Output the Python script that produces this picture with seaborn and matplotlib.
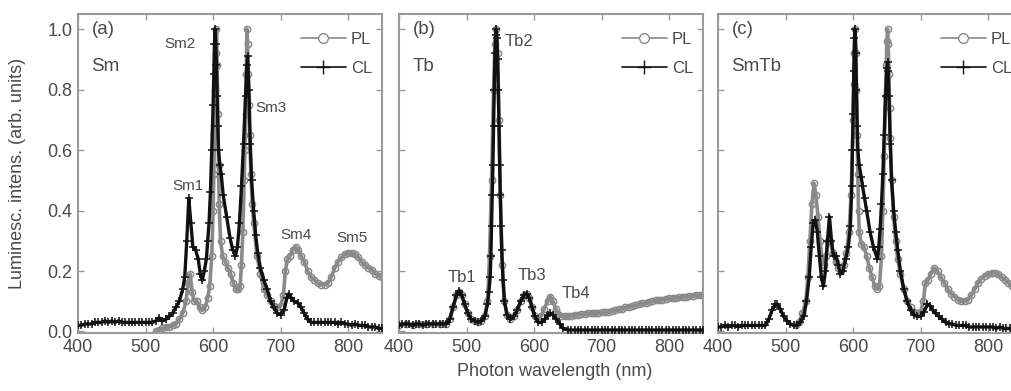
"""
Luminescence spectra (PL vs CL) for Sm, Tb and SmTb samples -- three panels.
"""

import matplotlib
matplotlib.use("Agg")
import matplotlib.pyplot as plt
import seaborn as sns
from matplotlib.lines import Line2D

# -- Data ---------------------------------------------------------------------
# (a) Sm
SM_CL_WL = [400, 405, 410, 415, 420, 425, 430, 435, 440, 445, 450, 455, 460, 465, 470,
            475, 480, 485, 490, 495, 500, 505, 510, 515, 520, 525, 530, 535, 540, 545,
            550, 555, 558, 561, 564, 567, 570, 574, 578, 581, 584, 587, 590, 592, 594,
            596, 598, 600, 601, 602, 603, 604, 605, 606, 607, 608, 610, 612, 615, 620,
            625, 629, 633, 636, 639, 642, 645, 648, 650, 651, 653, 655, 657, 660, 663,
            666, 670, 675, 680, 685, 690, 695, 700, 705, 709, 712, 716, 720, 725, 730,
            735, 740, 745, 750, 755, 760, 765, 770, 775, 780, 785, 790, 795, 800, 805,
            810, 815, 820, 825, 830, 835, 840, 845, 850]
SM_CL = [0.02, 0.02, 0.025, 0.025, 0.025, 0.03, 0.03, 0.03, 0.035, 0.03, 0.035, 0.03, 0.035, 0.03, 0.03,
         0.03, 0.03, 0.03, 0.03, 0.03, 0.03, 0.03, 0.03, 0.035, 0.045, 0.035, 0.04, 0.05, 0.06, 0.08,
         0.10, 0.14, 0.18, 0.30, 0.44, 0.36, 0.28, 0.27, 0.24, 0.19, 0.17, 0.20, 0.24, 0.30, 0.36,
         0.46, 0.60, 0.75, 0.85, 0.95, 1.00, 0.95, 0.88, 0.78, 0.68, 0.60, 0.55, 0.52, 0.45, 0.38,
         0.31, 0.27, 0.25, 0.28, 0.36, 0.48, 0.62, 0.78, 0.88, 0.91, 0.80, 0.62, 0.50, 0.40, 0.32,
         0.26, 0.21, 0.17, 0.14, 0.10, 0.08, 0.06, 0.055, 0.07, 0.11, 0.125, 0.11, 0.10, 0.095, 0.08,
         0.06, 0.04, 0.03, 0.03, 0.03, 0.03, 0.03, 0.03, 0.03, 0.03, 0.025, 0.03, 0.025, 0.025, 0.02,
         0.025, 0.02, 0.02, 0.02, 0.015, 0.015, 0.015, 0.01, 0.01]

SM_PL_WL = [515, 520, 525, 530, 535, 540, 545, 550, 555, 560, 563, 566, 569, 572, 576,
            580, 584, 588, 592, 595, 598, 600, 601, 602, 603, 604, 605, 606, 607, 608,
            609, 611, 614, 618, 622, 626, 630, 634, 637, 640, 642, 644, 646, 647, 648,
            649, 650, 651, 652, 653, 654, 656, 658, 660, 665, 670, 675, 680, 685, 690,
            695, 700, 704, 707, 710, 714, 718, 722, 726, 730, 735, 740, 745, 750, 755,
            760, 765, 770, 775, 780, 785, 790, 795, 800, 805, 810, 815, 820, 825, 830,
            835, 840, 845, 850]
SM_PL = [0.0, 0.005, 0.01, 0.015, 0.015, 0.02, 0.025, 0.04, 0.06, 0.10, 0.16, 0.19, 0.13, 0.10, 0.10,
         0.08, 0.07, 0.08, 0.11, 0.15, 0.25, 0.40, 0.52, 0.65, 0.80, 0.92, 1.00, 0.88, 0.72, 0.55,
         0.42, 0.30, 0.25, 0.23, 0.21, 0.19, 0.16, 0.14, 0.14, 0.15, 0.22, 0.33, 0.50, 0.60, 0.72,
         0.85, 1.00, 0.95, 0.85, 0.75, 0.65, 0.52, 0.42, 0.36, 0.25, 0.19, 0.14, 0.12, 0.10, 0.085,
         0.08, 0.085, 0.12, 0.20, 0.24, 0.25, 0.27, 0.28, 0.27, 0.25, 0.23, 0.20, 0.18, 0.17, 0.16,
         0.155, 0.155, 0.16, 0.18, 0.21, 0.23, 0.245, 0.255, 0.26, 0.26, 0.255, 0.245, 0.23, 0.22, 0.21,
         0.205, 0.19, 0.185, 0.18]

# (b) Tb
TB_CL_WL = [400, 405, 410, 415, 420, 425, 430, 435, 440, 445, 450, 455, 460, 465, 470,
            475, 480, 485, 489, 493, 497, 502, 507, 512, 517, 522, 527, 531, 533, 535,
            536, 537, 538, 539, 540, 541, 542, 543, 544, 545, 546, 547, 548, 549, 550,
            551, 552, 554, 556, 560, 565, 570, 575, 580, 585, 589, 593, 597, 601, 606,
            611, 616, 620, 624, 628, 633, 638, 643, 650, 655, 660, 665, 670, 675, 680,
            685, 690, 695, 700, 705, 710, 715, 720, 725, 730, 735, 740, 745, 750, 755,
            760, 765, 770, 775, 780, 785, 790, 795, 800, 805, 810, 815, 820, 825, 830,
            835, 840, 845, 850]
TB_CL = [0.02, 0.025, 0.025, 0.025, 0.02, 0.025, 0.025, 0.02, 0.025, 0.025, 0.025, 0.025, 0.025, 0.025, 0.025,
         0.04, 0.08, 0.12, 0.135, 0.12, 0.09, 0.06, 0.04, 0.035, 0.03, 0.035, 0.05, 0.09, 0.13, 0.18,
         0.25, 0.35, 0.45, 0.55, 0.68, 0.80, 0.92, 0.98, 1.00, 0.97, 0.90, 0.80, 0.68, 0.55, 0.45,
         0.35, 0.27, 0.17, 0.10, 0.055, 0.04, 0.05, 0.07, 0.10, 0.12, 0.125, 0.11, 0.08, 0.05, 0.03,
         0.03, 0.04, 0.055, 0.06, 0.055, 0.04, 0.025, 0.01, 0.005, 0.005, 0.005, 0.005, 0.005, 0.005, 0.005,
         0.005, 0.005, 0.005, 0.005, 0.005, 0.005, 0.005, 0.005, 0.005, 0.005, 0.005, 0.005, 0.005, 0.005, 0.005,
         0.005, 0.005, 0.005, 0.005, 0.005, 0.005, 0.005, 0.005, 0.005, 0.005, 0.005, 0.005, 0.005, 0.005, 0.005,
         0.005, 0.005, 0.005, 0.005]

TB_PL_WL = [400, 410, 420, 430, 440, 450, 460, 470, 475, 480, 485, 489, 493, 497, 502,
            507, 512, 517, 522, 527, 531, 534, 537, 540, 542, 544, 546, 548, 550, 553,
            556, 560, 565, 570, 575, 580, 585, 589, 593, 597, 601, 606, 610, 615, 620,
            624, 628, 632, 636, 640, 645, 650, 655, 660, 665, 670, 675, 680, 685, 690,
            695, 700, 705, 710, 715, 720, 725, 730, 735, 740, 745, 750, 755, 760, 765,
            770, 775, 780, 785, 790, 795, 800, 805, 810, 815, 820, 825, 830, 835, 840,
            845, 850]
TB_PL = [0.02, 0.025, 0.02, 0.025, 0.025, 0.025, 0.025, 0.025, 0.04, 0.08, 0.12, 0.13, 0.12, 0.09, 0.06,
         0.04, 0.035, 0.03, 0.035, 0.05, 0.10, 0.25, 0.50, 0.80, 0.95, 1.00, 0.92, 0.70, 0.45, 0.22,
         0.10, 0.055, 0.04, 0.05, 0.07, 0.10, 0.12, 0.125, 0.11, 0.08, 0.05, 0.04, 0.05, 0.075, 0.10,
         0.115, 0.10, 0.075, 0.058, 0.05, 0.05, 0.05, 0.052, 0.055, 0.055, 0.057, 0.058, 0.06, 0.06, 0.06,
         0.062, 0.063, 0.065, 0.065, 0.068, 0.07, 0.073, 0.075, 0.08, 0.082, 0.085, 0.087, 0.09, 0.093, 0.095,
         0.097, 0.1, 0.103, 0.105, 0.105, 0.108, 0.11, 0.11, 0.112, 0.113, 0.115, 0.115, 0.117, 0.118, 0.12,
         0.12, 0.12]

# (c) SmTb
SMTB_CL_WL = [400, 405, 410, 415, 420, 425, 430, 435, 440, 445, 450, 455, 460, 465, 470,
              475, 480, 485, 488, 492, 497, 502, 507, 512, 517, 522, 527, 531, 535, 538,
              541, 544, 547, 550, 553, 556, 559, 562, 565, 568, 571, 575, 578, 581, 585,
              589, 593, 596, 598, 599, 600, 601, 602, 603, 604, 605, 606, 607, 609, 612,
              614, 617, 620, 625, 630, 636, 638, 640, 642, 644, 646, 648, 650, 651, 652,
              653, 655, 657, 660, 663, 666, 670, 675, 680, 685, 690, 695, 700, 705, 710,
              714, 718, 722, 727, 732, 737, 742, 747, 752, 757, 762, 767, 772, 777, 782,
              787, 792, 797, 802, 807, 812, 817, 822, 827, 832, 837, 842, 847, 850]
SMTB_CL = [0.015, 0.015, 0.02, 0.015, 0.02, 0.02, 0.015, 0.02, 0.02, 0.02, 0.02, 0.02, 0.02, 0.02, 0.02,
           0.04, 0.07, 0.09, 0.09, 0.075, 0.05, 0.035, 0.025, 0.02, 0.02, 0.03, 0.05, 0.10, 0.18, 0.28,
           0.36, 0.37, 0.33, 0.25, 0.18, 0.15, 0.20, 0.30, 0.38, 0.30, 0.25, 0.25, 0.22, 0.19, 0.20,
           0.24, 0.28, 0.35, 0.48, 0.60, 0.72, 0.86, 0.97, 1.00, 0.92, 0.80, 0.68, 0.60, 0.55, 0.51,
           0.48, 0.44, 0.40, 0.33, 0.28, 0.24, 0.28, 0.34, 0.42, 0.52, 0.65, 0.78, 0.87, 0.89, 0.86,
           0.78, 0.62, 0.50, 0.40, 0.33, 0.27, 0.20, 0.14, 0.10, 0.07, 0.055, 0.05, 0.05, 0.065, 0.09,
           0.085, 0.07, 0.06, 0.05, 0.04, 0.03, 0.025, 0.025, 0.02, 0.02, 0.02, 0.02, 0.015, 0.015, 0.015,
           0.015, 0.015, 0.015, 0.015, 0.015, 0.01, 0.015, 0.01, 0.01, 0.01, 0.01, 0.01, 0.01, 0.01]

SMTB_PL_WL = [515, 520, 525, 530, 533, 536, 539, 542, 545, 548, 551, 554, 557, 560, 563,
              566, 570, 574, 578, 582, 586, 590, 594, 597, 600, 601, 602, 603, 604, 605,
              606, 607, 608, 609, 612, 616, 620, 624, 628, 632, 636, 639, 642, 644, 646,
              648, 649, 650, 651, 652, 653, 654, 655, 657, 660, 663, 666, 670, 675, 680,
              685, 690, 695, 700, 704, 707, 711, 715, 720, 725, 730, 735, 740, 745, 750,
              755, 760, 765, 770, 775, 780, 785, 790, 795, 800, 805, 810, 815, 820, 825,
              830, 835, 840, 845, 850]
SMTB_PL = [0.02, 0.03, 0.06, 0.10, 0.18, 0.30, 0.42, 0.49, 0.45, 0.38, 0.30, 0.24, 0.22, 0.25, 0.30,
           0.30, 0.26, 0.23, 0.21, 0.20, 0.22, 0.26, 0.33, 0.45, 0.70, 0.82, 0.92, 1.00, 0.92, 0.80,
           0.65, 0.52, 0.40, 0.33, 0.29, 0.28, 0.25, 0.21, 0.18, 0.15, 0.14, 0.15, 0.25, 0.40, 0.58,
           0.78, 0.88, 0.96, 1.00, 0.95, 0.85, 0.74, 0.64, 0.50, 0.38, 0.30, 0.24, 0.19, 0.14, 0.10,
           0.08, 0.065, 0.06, 0.065, 0.10, 0.16, 0.17, 0.19, 0.21, 0.20, 0.18, 0.16, 0.14, 0.125, 0.115,
           0.105, 0.10, 0.10, 0.105, 0.12, 0.14, 0.16, 0.175, 0.185, 0.19, 0.195, 0.195, 0.19, 0.18, 0.17,
           0.16, 0.15, 0.135, 0.125, 0.12]

PANELS = [
    ("(a)", "Sm",   SM_PL_WL,   SM_PL,   SM_CL_WL,   SM_CL),
    ("(b)", "Tb",   TB_PL_WL,   TB_PL,   TB_CL_WL,   TB_CL),
    ("(c)", "SmTb", SMTB_PL_WL, SMTB_PL, SMTB_CL_WL, SMTB_CL),
]

PEAK_LABELS = {
    0: [("Sm1", 563, 0.48, "center"), ("Sm2", 551, 0.95, "center"), ("Sm3", 663, 0.74, "left"),
        ("Sm4", 723, 0.32, "center"), ("Sm5", 806, 0.31, "center")],
    1: [("Tb1", 493, 0.18, "center"), ("Tb2", 556, 0.96, "left"), ("Tb3", 597, 0.185, "center"),
        ("Tb4", 662, 0.125, "center")],
    2: [],
}

# -- Style ---------------------------------------------------------------------
C_PL   = "#8a8a8a"
C_CL   = "#111111"
C_TEXT = "#4a4a4a"
C_AXIS = "#9a9a9a"

sns.set_style("ticks")
plt.rcParams["font.family"] = ["Liberation Sans", "DejaVu Sans"]
plt.rcParams.update({
    "xtick.direction": "in", "ytick.direction": "in",
    "xtick.color": C_AXIS, "ytick.color": C_AXIS,
    "xtick.labelcolor": C_TEXT, "ytick.labelcolor": C_TEXT,
    "axes.edgecolor": C_AXIS,
})

fig = plt.figure(figsize=(10.12, 3.91), dpi=100)
lefts = [78, 399, 718]
axes = [fig.add_axes([l / 1012, 1 - 333 / 391, 304 / 1012, 319 / 391]) for l in lefts]

for i, (ax, (tag, name, pl_x, pl_y, cl_x, cl_y)) in enumerate(zip(axes, PANELS)):
    # PL: grey open circles, CL: black plus signs (drawn on top)
    sns.lineplot(x=pl_x, y=pl_y, ax=ax, color=C_PL, linewidth=2.6, marker="o",
                 markersize=4.5, markerfacecolor="none", markeredgecolor=C_PL,
                 markeredgewidth=1.1, estimator=None, sort=False, zorder=2)
    sns.lineplot(x=cl_x, y=cl_y, ax=ax, color=C_CL, linewidth=2.4, marker="+",
                 markersize=6, markeredgecolor=C_CL, markeredgewidth=1.1,
                 estimator=None, sort=False, zorder=3)

    ax.set_xlim(400, 850)
    ax.set_ylim(-0.005, 1.05)
    ax.set_xticks([400, 500, 600, 700, 800])
    ax.set_yticks([0.0, 0.2, 0.4, 0.6, 0.8, 1.0])
    ax.tick_params(top=True, right=True, length=4, width=1.0, labelsize=13, pad=4)
    for sp in ax.spines.values():
        sp.set_linewidth(1.5)
        sp.set_visible(True)
    if i == 0:
        ax.set_yticklabels([f"{v:.1f}" for v in [0.0, 0.2, 0.4, 0.6, 0.8, 1.0]])
    else:
        ax.set_yticklabels([])

    ax.text(420, 1.0, tag, fontsize=13.5, color=C_TEXT, ha="left", va="center")
    ax.text(420, 0.875, name, fontsize=13.5, color=C_TEXT, ha="left", va="center")
    for lab, x, y, ha in PEAK_LABELS[i]:
        ax.text(x, y, lab, fontsize=12 if i == 1 else 11, color=C_TEXT, ha=ha, va="center")

    handles = [
        Line2D([], [], color=C_PL, linewidth=1.2, marker="o", markersize=7,
               markerfacecolor="white", markeredgecolor=C_PL, label="PL"),
        Line2D([], [], color=C_CL, linewidth=1.2, marker="+", markersize=10,
               markeredgewidth=1.0, markeredgecolor=C_CL, label="CL"),
    ]
    ax.legend(handles=handles, loc="upper right", bbox_to_anchor=(1.0, 0.975),
              frameon=False, fontsize=12, handlelength=2.7, handletextpad=0.3,
              labelspacing=0.85, borderaxespad=0.2, labelcolor=C_TEXT)

fig.text(555 / 1012, 1 - 372 / 391, "Photon wavelength (nm)", fontsize=13,
         color=C_TEXT, ha="center", va="center")
fig.text(18 / 1012, 1 - 173 / 391, "Luminesc. intens. (arb. units)", fontsize=13,
         color=C_TEXT, ha="center", va="center", rotation=90)

fig.savefig("out.png", dpi=100)
plt.close(fig)
